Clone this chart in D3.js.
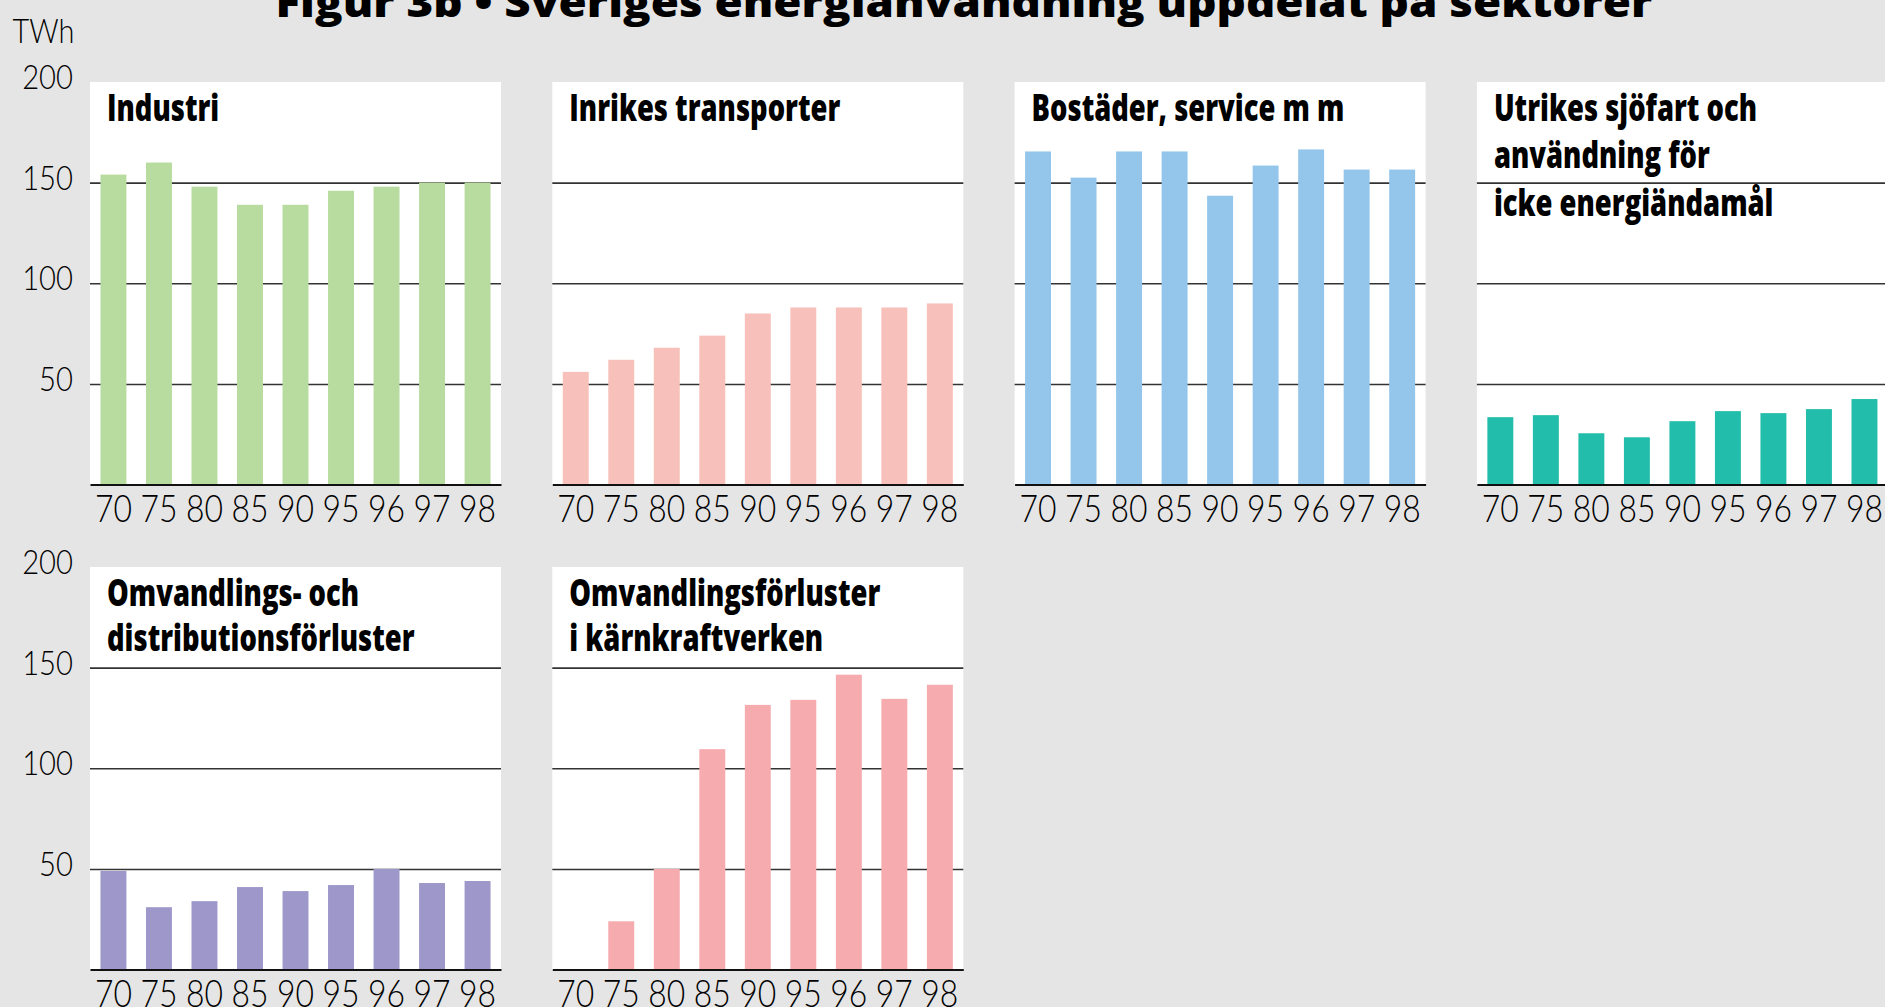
<!DOCTYPE html>
<html>
<head>
<meta charset="utf-8">
<script src="https://cdn.jsdelivr.net/npm/d3@7"></script>
<style>
    body { margin: 0; background: #e5e5e5; overflow: hidden; }
    svg { display: block; }
</style>
</head>
<body>
<svg id="chart" width="1885" height="1007"></svg>
<script>
// data (TWh)
const years = ["70", "75", "80", "85", "90", "95", "96", "97", "98"];
const industri = [154, 160, 148, 139, 139, 146, 148, 150, 150];
const transporter = [56, 62, 68, 74, 85, 88, 88, 88, 90];
const bostader = [165.5, 152.5, 165.5, 165.5, 143.5, 158.5, 166.5, 156.5, 156.5];
const utrikes = [33.5, 34.5, 25.5, 23.5, 31.5, 36.5, 35.5, 37.5, 42.5];
const omvandling = [49, 31, 34, 41, 39, 42, 50, 43, 44];
const karnkraft = [0, 24, 50, 109.5, 131.5, 134, 146.5, 134.5, 141.5];

const panelTitles = [
    ["Industri"],
    ["Inrikes transporter"],
    ["Bostäder, service m m"],
    ["Utrikes sjöfart och", "användning för", "icke energiändamål"],
    ["Omvandlings- och", "distributionsförluster"],
    ["Omvandlingsförluster", "i kärnkraftverken"]
];
const yTicks = [50, 100, 150, 200];
const chartTitle = "Figur 3b • Sveriges energianvändning uppdelat på sektorer";
const unitLabel = "TWh";

const colors = ["#b8dc9f", "#f8c0ba", "#93c6ea", "#22bdab", "#9d97ca", "#f6abae"];
const series = [industri, transporter, bostader, utrikes, omvandling, karnkraft];

// layout
var panelW = 411,
    panelH = 402.6,
    colStep = 462.3,
    rowStep = 485,
    left0 = 90,
    top0 = 82;

var numFont = "Lato, 'Open Sans', sans-serif";
var boldFont = "'Open Sans', Lato, sans-serif";
var titleScale = 0.74;   // squeeze the bold titles to look like the condensed original

var x = d3.scaleBand()
    .domain(years)
    .range([0, panelW])
    .paddingInner(0.43)
    .paddingOuter(0.23);

var y = d3.scaleLinear()
    .domain([0, 200])
    .range([panelH, 0]);

var svg = d3.select("#chart");

svg.append("rect")
    .attr("width", 1885)
    .attr("height", 1007)
    .attr("fill", "#e5e5e5");

// main title (mostly cut off at the top in the original)
svg.append("text")
    .attr("x", 964)
    .attr("y", 17)
    .attr("text-anchor", "middle")
    .attr("font-family", boldFont)
    .attr("font-weight", 800)
    .attr("font-size", 40)
    .attr("textLength", 1377)
    .attr("lengthAdjust", "spacingAndGlyphs")
    .text(chartTitle);

svg.append("text")
    .attr("x", 74.5)
    .attr("y", 42.7)
    .attr("text-anchor", "end")
    .attr("font-family", numFont)
    .attr("font-weight", 300)
    .attr("font-size", 34)
    .attr("transform", "translate(74.5,0) scale(0.85,1) translate(-74.5,0)")
    .text(unitLabel);

series.forEach(function (values, i) {
    var col = i % 4,
        row = Math.floor(i / 4);

    var g = svg.append("g")
        .attr("transform", "translate(" + (left0 + col * colStep) + "," + (top0 + row * rowStep) + ")");

    g.append("rect")
        .attr("width", panelW)
        .attr("height", panelH)
        .attr("fill", "#fff");

    // horizontal grid lines
    var grid = g.append("g")
        .call(d3.axisLeft(y).tickValues([50, 100, 150]).tickSize(-panelW).tickFormat(""));
    grid.select(".domain").remove();
    grid.selectAll("line")
        .attr("stroke", "#333")
        .attr("stroke-width", 1.6);

    // bars
    g.selectAll(".bar")
        .data(values)
        .enter()
        .append("rect")
        .attr("class", "bar")
        .attr("x", function (d, j) { return x(years[j]); })
        .attr("y", function (d) { return y(d); })
        .attr("width", x.bandwidth())
        .attr("height", function (d) { return panelH - y(d); })
        .attr("fill", colors[i]);

    // x axis with the baseline
    var xAxis = g.append("g")
        .attr("transform", "translate(0," + panelH + ")")
        .call(d3.axisBottom(x).tickSize(0).tickSizeOuter(0).tickPadding(10));
    xAxis.select(".domain")
        .attr("stroke", "#111")
        .attr("stroke-width", 2);
    xAxis.selectAll("text")
        .attr("font-family", numFont)
        .attr("font-weight", 300)
        .attr("font-size", 38)
        .attr("fill", "#000")
        .attr("transform", "scale(0.84,1)");

    // y labels only on the left column
    if (col === 0) {
        var sy = 0.86;
        var yAxis = g.append("g")
            .call(d3.axisLeft(y).tickValues(yTicks).tickSize(0));
        yAxis.select(".domain").remove();
        yAxis.selectAll("text")
            .attr("x", -17 / sy)
            .attr("dy", "0.19em")
            .attr("font-family", numFont)
            .attr("font-weight", 300)
            .attr("font-size", 34)
            .attr("fill", "#000")
            .attr("transform", "scale(" + sy + ",1)");
    }

    // panel title
    var lines = panelTitles[i];
    var lineH = lines.length > 2 ? 48 : 45.5;
    var t = g.append("text")
        .attr("transform", "translate(17,38.5) scale(" + titleScale + ",1)")
        .attr("font-family", boldFont)
        .attr("font-weight", 800)
        .attr("font-size", 37)
        .attr("fill", "#000");
    t.selectAll("tspan")
        .data(lines)
        .enter()
        .append("tspan")
        .attr("x", 0)
        .attr("y", function (d, k) { return k * lineH; })
        .text(function (d) { return d; });
});
</script>
</body>
</html>
